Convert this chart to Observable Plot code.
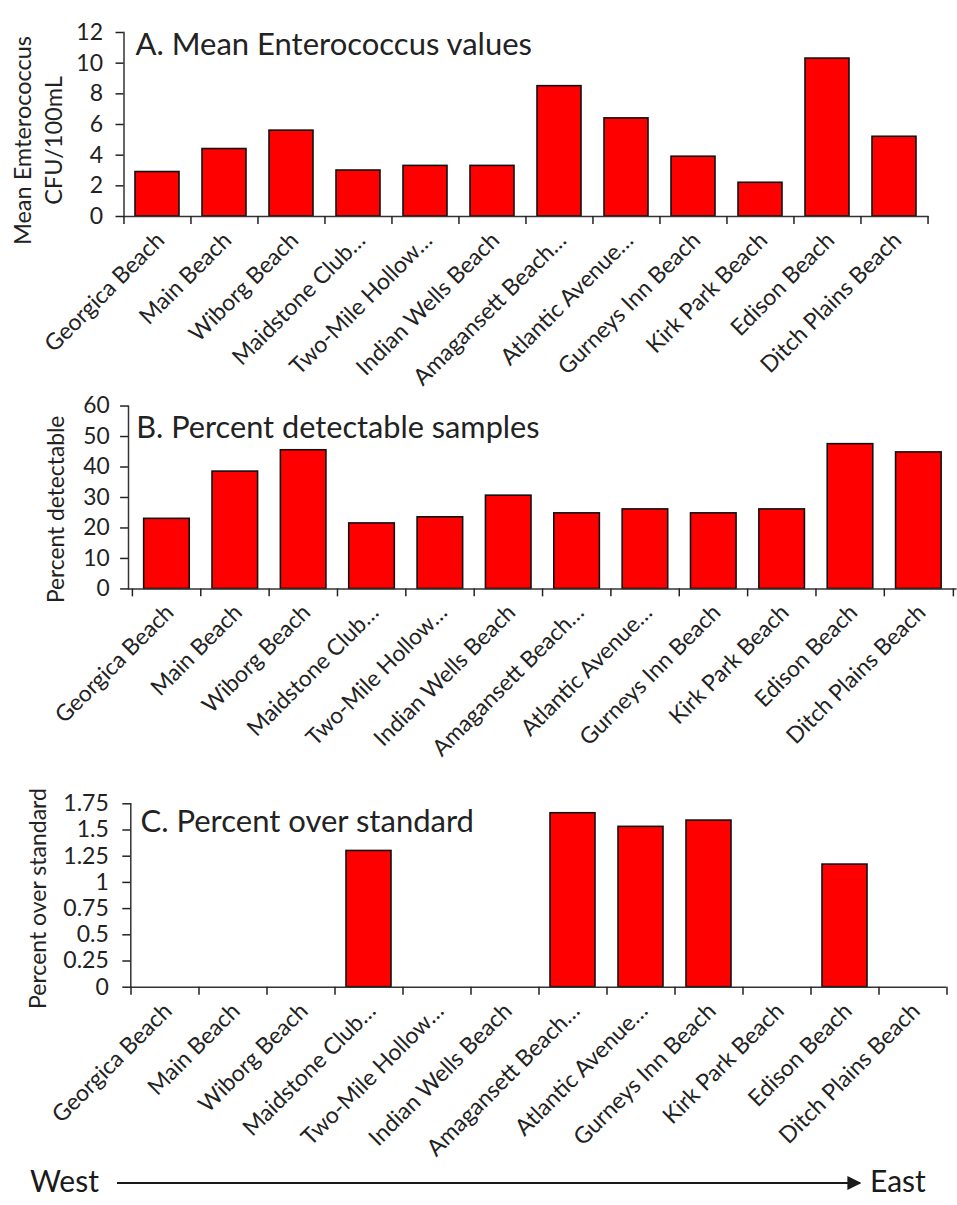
<!DOCTYPE html>
<html><head><meta charset="utf-8">
<script src="https://cdn.jsdelivr.net/npm/d3@7"></script>
<script src="https://cdn.jsdelivr.net/npm/@observablehq/plot@0.6"></script>
<style>
body{margin:0;background:#fff;font-family:Lato,sans-serif;}
#wrap{position:relative;width:957px;height:1205px;overflow:hidden;background:#fff;}
.panel{position:absolute;left:0;}
#dir{position:absolute;left:0;top:1160px;width:957px;height:45px;font-family:Lato,sans-serif;font-size:30px;color:#1a1a1a;}
</style></head><body><div id="wrap"></div>
<script>
const beaches = ["Georgica Beach","Main Beach","Wiborg Beach","Maidstone Club…","Two-Mile Hollow…","Indian Wells Beach","Amagansett Beach…","Atlantic Avenue…","Gurneys Inn Beach","Kirk Park Beach","Edison Beach","Ditch Plains Beach"];
const meanEntero = [2.9, 4.4, 5.6, 3.0, 3.3, 3.3, 8.5, 6.4, 3.9, 2.2, 10.3, 5.2];
const pctDetect = [23, 38.5, 45.5, 21.5, 23.5, 30.6, 24.8, 26.1, 24.8, 26.1, 47.5, 44.8];
const pctOver = [0, 0, 0, 1.30, 0, 0, 1.66, 1.53, 1.59, 0, 1.17, 0];
const ticksA = [0, 2, 4, 6, 8, 10, 12];
const ticksB = [0, 10, 20, 30, 40, 50, 60];
const ticksC = [0, 0.25, 0.5, 0.75, 1, 1.25, 1.5, 1.75];
const titles = ["A. Mean Enterococcus values", "B. Percent detectable samples", "C. Percent over standard"];
const yLabels = ["Mean Emterococcus\nCFU/100mL", "Percent detectable", "Percent over standard"];
const directions = ["West", "East"];

const wrap = document.getElementById("wrap");
const INK = "#222";

function panel(o) {
  const data = beaches.map((b, i) => ({beach: b, v: o.values[i]}));
  const step = (o.width - o.ml - o.mr) / beaches.length;
  const frameMidY = o.mt + (o.height - o.mt - o.mb) / 2;
  const svg = Plot.plot({
    width: o.width, height: o.height,
    marginTop: o.mt, marginBottom: o.mb, marginLeft: o.ml, marginRight: o.mr,
    style: {fontFamily: "Lato, sans-serif", fontSize: "23px", color: INK, background: "transparent", overflow: "visible"},
    x: {domain: beaches, paddingInner: 0.34, paddingOuter: 0.17, axis: null},
    y: {domain: [0, o.yMax], axis: null},
    marks: [
      Plot.barY(data, {x: "beach", y: "v", fill: "#ff0000", stroke: "#111", strokeWidth: 1.6}),
      Plot.ruleY([0], {stroke: "#333", strokeWidth: 1.5}),
      Plot.frame({anchor: "left", stroke: "#333", strokeWidth: 1.5}),
      Plot.axisY(o.ticks, {tickSize: 8, tickPadding: o.tickPad, tickFormat: d => String(d), label: null, strokeWidth: 1.5, fontSize: 23}),
      Plot.axisX(beaches, {tickSize: 8, tickFormat: () => "", dx: -step / 2, label: null, strokeWidth: 1.5}),
      Plot.axisX([beaches[beaches.length - 1]], {tickSize: 8, tickFormat: () => "", dx: step / 2, label: null, strokeWidth: 1.5}),
      Plot.axisX(beaches, {tickSize: 0, tickPadding: o.xPad, tickRotate: -45, label: null, fontSize: 23, dx: o.xDx}),
      Plot.text([o.title], {frameAnchor: "top-left", textAnchor: "start", lineAnchor: "bottom",
        dx: o.titleX - o.ml, dy: o.titleBase - o.mt, fontSize: 31, fill: INK}),
      Plot.text([o.ylabel], {frameAnchor: "left", rotate: -90, textAnchor: "middle", lineAnchor: "middle",
        lineHeight: 1.3, dx: o.ylx - o.ml, dy: o.yly - frameMidY, fontSize: o.ylFont, fill: INK})
    ]
  });
  svg.classList.add("panel");
  svg.style.top = o.top + "px";
  wrap.appendChild(svg);
}

panel({values: meanEntero, ticks: ticksA, yMax: 12, title: titles[0], ylabel: yLabels[0],
  top: 0, width: 957, height: 390, mt: 32, mb: 174, ml: 123.5, mr: 28.5, tickPad: 13,
  xPad: 20, xDx: 3, titleX: 135, titleBase: 54, ylx: 36, yly: 140, ylFont: 23.5});
panel({values: pctDetect, ticks: ticksB, yMax: 60, title: titles[1], ylabel: yLabels[1],
  top: 390, width: 966, height: 390, mt: 15.7, mb: 189.7, ml: 129.2, mr: 0.4, tickPad: 11,
  xPad: 20, xDx: 3, titleX: 137, titleBase: 47.7, ylx: 55, yly: 120, ylFont: 23});
panel({values: pctOver, ticks: ticksC, yMax: 1.75, title: titles[2], ylabel: yLabels[2],
  top: 780, width: 957, height: 370, mt: 23.3, mb: 163.3, ml: 130.3, mr: 10.7, tickPad: 14,
  xPad: 20, xDx: 3, titleX: 140, titleBase: 51.7, ylx: 36, yly: 118, ylFont: 23});

// West -> East direction row
const dir = document.createElement("div");
dir.id = "dir";
dir.innerHTML = `<span style="position:absolute;left:30px;top:2px;">${directions[0]}</span>
<svg style="position:absolute;left:0;top:0" width="957" height="45">
<defs><marker id="ah" viewBox="0 0 10 10" refX="9" refY="5" markerWidth="7" markerHeight="7" orient="auto">
<path d="M0,0L10,5L0,10z" fill="#1a1a1a"/></marker></defs>
<line x1="117" y1="23" x2="860" y2="23" stroke="#1a1a1a" stroke-width="2" marker-end="url(#ah)"/></svg>
<span style="position:absolute;left:870px;top:2px;">${directions[1]}</span>`;
wrap.appendChild(dir);
</script></body></html>
